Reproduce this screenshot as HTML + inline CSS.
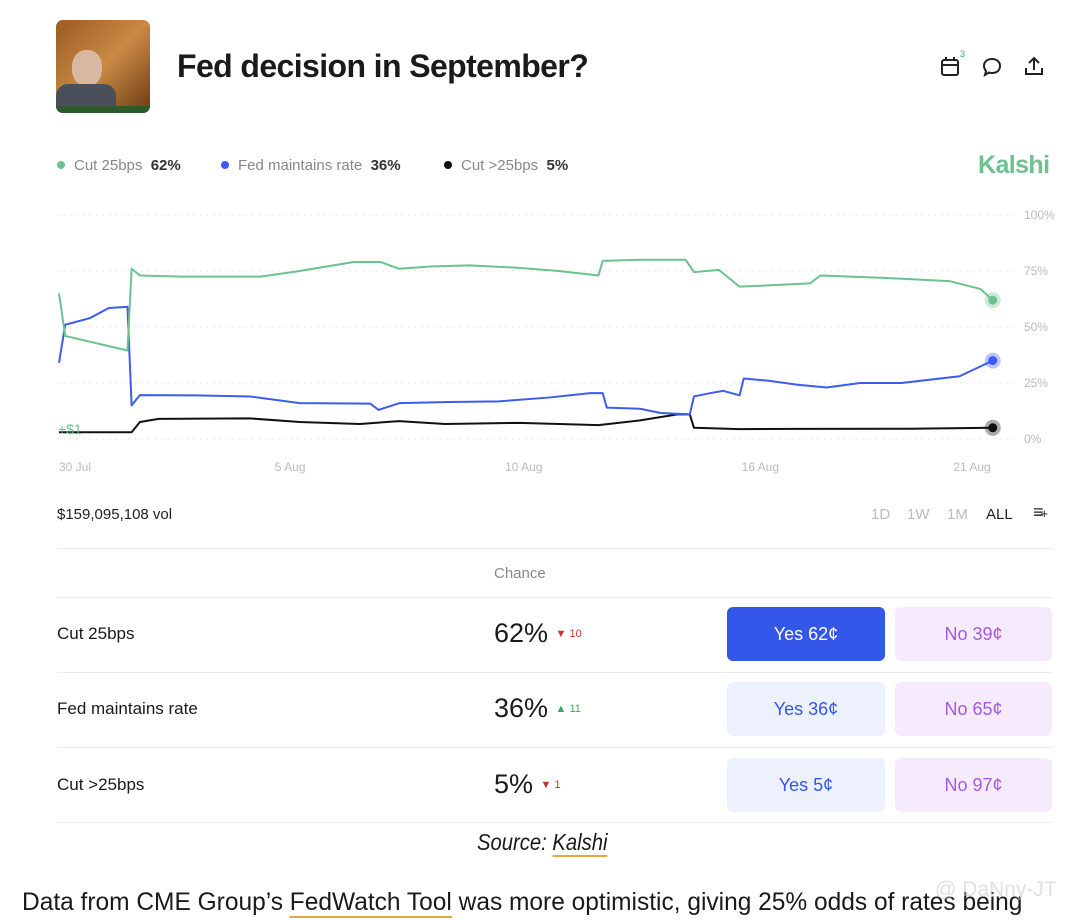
<!DOCTYPE html>
<html><head><meta charset="utf-8"><style>
body{margin:0;width:1078px;height:920px;background:#fff;font-family:"Liberation Sans",sans-serif;position:relative;overflow:hidden;color:#1a1a1a}
.a{position:absolute;white-space:nowrap}
.btn{position:absolute;border-radius:6px;text-align:center;font-size:18px;line-height:54px;height:54px}
.hr{position:absolute;left:57px;width:995px;height:1px;background:#ececec}
</style></head><body>
<div class="a" style="left:56px;top:20px;width:94px;height:93px;border-radius:7px;background:linear-gradient(135deg,#9a5a22,#c98a44 50%,#6b3a14);overflow:hidden">
 <div style="position:absolute;left:16px;top:30px;width:30px;height:36px;border-radius:45%;background:#d9b8a2"></div>
 <div style="position:absolute;left:0;top:64px;width:60px;height:29px;background:#4a505a;border-radius:12px 12px 0 0"></div>
 <div style="position:absolute;left:0;top:86px;width:94px;height:7px;background:#2c5a2a"></div>
</div>
<div class="a" style="left:177px;top:48px;font-size:32px;font-weight:bold;letter-spacing:-0.6px">Fed decision in September?</div>
<svg class="a" style="left:940px;top:56px" width="22" height="22" viewBox="0 0 22 22"><rect x="2" y="4" width="16" height="15" rx="2" fill="none" stroke="#222" stroke-width="2"/><line x1="2" y1="9" x2="18" y2="9" stroke="#222" stroke-width="2"/><line x1="6" y1="1" x2="6" y2="5" stroke="#222" stroke-width="2"/><line x1="14" y1="1" x2="14" y2="5" stroke="#222" stroke-width="2"/></svg>
<div class="a" style="left:960px;top:49px;font-size:9px;color:#3aa66a">3</div>
<svg class="a" style="left:981px;top:56px" width="22" height="22" viewBox="0 0 22 22"><path d="M11 3c5 0 8 3 8 7s-3 7-8 7c-1 0-2 0-3-.5L4 19l1-4c-1-1.3-2-3-2-5 0-4 3-7 8-7z" fill="none" stroke="#222" stroke-width="2"/></svg>
<svg class="a" style="left:1023px;top:55px" width="22" height="22" viewBox="0 0 22 22"><path d="M11 15V3M6 8l5-5 5 5M3 13v6h16v-6" fill="none" stroke="#222" stroke-width="2"/></svg>

<div class="a" style="left:57px;top:157px;font-size:15px;color:#888"><span style="display:inline-block;width:8px;height:8px;border-radius:50%;background:#6cc28f;margin-right:9px;vertical-align:1px"></span>Cut 25bps&nbsp;&nbsp;<b style="color:#333">62%</b></div>
<div class="a" style="left:221px;top:157px;font-size:15px;color:#888"><span style="display:inline-block;width:8px;height:8px;border-radius:50%;background:#3d5bf0;margin-right:9px;vertical-align:1px"></span>Fed maintains rate&nbsp;&nbsp;<b style="color:#333">36%</b></div>
<div class="a" style="left:444px;top:157px;font-size:15px;color:#888"><span style="display:inline-block;width:8px;height:8px;border-radius:50%;background:#111;margin-right:9px;vertical-align:1px"></span>Cut &gt;25bps&nbsp;&nbsp;<b style="color:#333">5%</b></div>
<div class="a" style="left:978px;top:151px;font-size:25px;font-weight:bold;color:#6cc28f;letter-spacing:-0.6px">Kalshi</div>

<svg class="a" id="chart" style="left:0;top:200px" width="1078" height="290"></svg>

<div class="a" style="left:57px;top:506px;font-size:15px;color:#222">$159,095,108 vol</div>
<div class="a" style="left:871px;top:506px;font-size:15px;color:#bbb">1D</div>
<div class="a" style="left:907px;top:506px;font-size:15px;color:#bbb">1W</div>
<div class="a" style="left:947px;top:506px;font-size:15px;color:#bbb">1M</div>
<div class="a" style="left:986px;top:506px;font-size:15px;color:#222">ALL</div>
<div class="a" style="left:1033px;top:502px;font-size:18px;color:#222">≡<span style="font-size:13px;margin-left:-3px">+</span></div>

<div class="hr" style="top:548px"></div>
<div class="a" style="left:494px;top:565px;font-size:15px;color:#888">Chance</div>
<div class="hr" style="top:597px"></div>
<div class="hr" style="top:672px"></div>
<div class="hr" style="top:747px"></div>
<div class="hr" style="top:822px"></div>

<div class="a" style="left:57px;top:624px;font-size:17px">Cut 25bps</div>
<div class="a" style="left:494px;top:618px;font-size:27px;font-weight:500">62% <span style="font-size:11px;color:#c0392b;vertical-align:5px">▼ 10</span></div>
<div class="btn" style="left:727px;top:607px;width:158px;background:#3457ea;color:#fff">Yes 62¢</div>
<div class="btn" style="left:895px;top:607px;width:157px;background:#f5ebfd;color:#a45ae0">No 39¢</div>

<div class="a" style="left:57px;top:699px;font-size:17px">Fed maintains rate</div>
<div class="a" style="left:494px;top:693px;font-size:27px;font-weight:500">36% <span style="font-size:11px;color:#3aa66a;vertical-align:5px">▲ 11</span></div>
<div class="btn" style="left:727px;top:682px;width:158px;background:#edf1fd;color:#3457ea">Yes 36¢</div>
<div class="btn" style="left:895px;top:682px;width:157px;background:#f5ebfd;color:#a45ae0">No 65¢</div>

<div class="a" style="left:57px;top:775px;font-size:17px">Cut &gt;25bps</div>
<div class="a" style="left:494px;top:769px;font-size:27px;font-weight:500">5% <span style="font-size:11px;color:#c0392b;vertical-align:5px">▼ 1</span></div>
<div class="btn" style="left:727px;top:758px;width:158px;background:#edf1fd;color:#3457ea">Yes 5¢</div>
<div class="btn" style="left:895px;top:758px;width:157px;background:#f5ebfd;color:#a45ae0">No 97¢</div>

<div class="a" style="left:477px;top:829px;font-size:23px;font-style:italic;transform:scaleX(0.88);transform-origin:left">Source: <span style="border-bottom:2px solid #e2a93b">Kalshi</span></div>
<div class="a" style="left:22px;top:888px;font-size:25px;transform:scaleX(0.98);transform-origin:left">Data from CME Group’s <span style="border-bottom:2px solid #e2a93b">FedWatch Tool</span> was more optimistic, giving 25% odds of rates being</div>
<div class="a" style="left:935px;top:878px;font-size:21px;color:rgba(200,200,200,0.55)">@ DaNny-JT</div>

<script>
const greenT=[0,0.15,1.65,1.75,1.95,3,4.85,5.8,7.1,7.75,8.2,8.95,9.9,11,12.05,13.0,13.1,14,15.1,15.3,15.9,16.4,18.1,18.35,19.8,21.45,22.2,22.5];
const greenV=[65,46,39.5,76,73,72.5,72.5,75,79,79,76,77,77.5,76.5,75,73,79.5,80,80,74.5,75.5,68,69.5,73,72,70.5,67,62];
const blueT=[0,0.15,0.75,1.2,1.65,1.75,1.95,3.3,4.6,5.8,7.5,7.7,8.2,9.4,10.6,11.8,12.8,13.1,13.2,14,14.5,15.2,15.3,15.7,16,16.4,16.5,17.1,17.8,18.5,19.3,20.3,21.7,22.5];
const blueV=[34,51,54,58.5,59,15,19.6,19.5,19,16,15.8,13,16,16.5,16.8,18.5,20.5,20.5,14,13.5,11.6,11,19,20.5,21.5,19.5,27,26,24.2,23,25,25,28,35];
const blackT=[0,1.75,1.95,2.4,4.6,5.8,7.25,8.2,9.3,11.1,13,14,14.9,15.2,15.3,16.4,17.8,20.5,22.5];
const blackV=[3,3,7.6,9,9.2,7.6,6.7,8,6.7,7.2,6.2,8.3,11,11,5,4.4,4.5,4.6,5];
const yTicks=[100,75,50,25,0];
const xTickDays=[0,5.57,11.2,16.9,22];
const xTickLabels=["30 Jul","5 Aug","10 Aug","16 Aug","21 Aug"];
const NS="http://www.w3.org/2000/svg";
const svg=document.getElementById('chart');
const X=d=>59+d*41.5;
const Y=v=>239-v*2.24;
function mk(t,a){const e=document.createElementNS(NS,t);for(const k in a)e.setAttribute(k,a[k]);svg.appendChild(e);return e;}
yTicks.forEach(v=>{
  const l=mk('line',{x1:57,x2:1015,y1:Y(v),y2:Y(v),stroke:'#ddd','stroke-dasharray':'1.5 5'});
  
  
  const t=mk('text',{x:1024,y:Y(v)+4,'font-size':12,fill:'#bbb','font-family':'Liberation Sans'});
  t.textContent=v+'%';
  
  
});
xTickDays.forEach((d,i)=>{
  const t=mk('text',{x:X(d),y:271,'font-size':12,fill:'#bbb','font-family':'Liberation Sans','text-anchor':i==0?'start':'middle'});
  t.textContent=xTickLabels[i];
  
  
});
function series(T,V,c,name){
  const p=mk('polyline',{points:T.map((d,i)=>X(d)+','+Y(V[i])).join(' '),fill:'none',stroke:c,'stroke-width':2,'stroke-linejoin':'round'});
  
  
  const n=T.length-1;
  const h=mk('circle',{cx:X(T[n]),cy:Y(V[n]),r:8,fill:c,opacity:0.35});
  
  
  const d=mk('circle',{cx:X(T[n]),cy:Y(V[n]),r:4.5,fill:c});
  
  
}
series(blackT,blackV,'#111','cut-over-25bps');
series(blueT,blueV,'#3d5bf0','fed-maintains');
series(greenT,greenV,'#6cc28f','cut-25bps');
const lb=mk('text',{x:58,y:234,'font-size':14,fill:'#6cc28f','font-family':'Liberation Sans'});
lb.textContent='+$1';


</script>
</body></html>
